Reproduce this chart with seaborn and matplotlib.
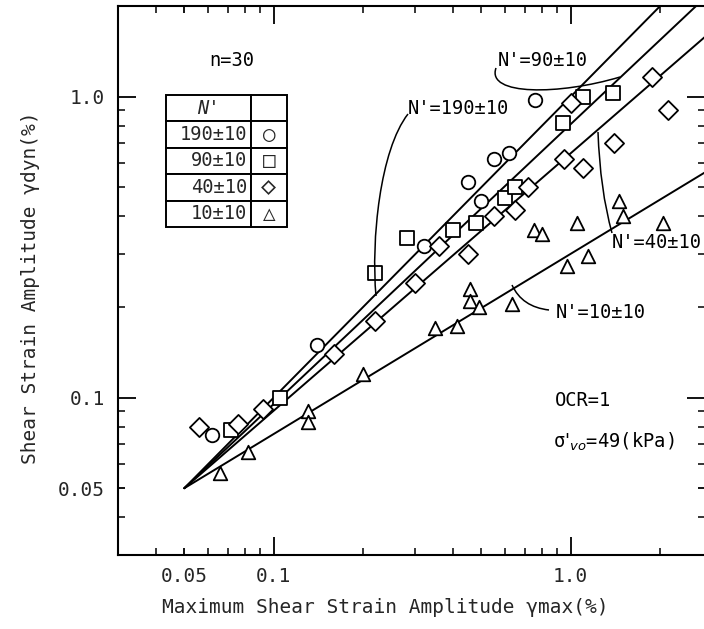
import numpy as np
import matplotlib
matplotlib.use("Agg")
import matplotlib.pyplot as plt
import seaborn as sns
from matplotlib.ticker import FixedLocator, NullFormatter, FixedFormatter
from matplotlib.path import Path
from matplotlib.patches import PathPatch

# ---------------- data ----------------
circle_x = [0.062, 0.14, 0.32, 0.45, 0.50, 0.55, 0.62, 0.76]
circle_y = [0.075, 0.15, 0.32, 0.52, 0.45, 0.62, 0.65, 0.977]

square_x = [0.072, 0.105, 0.22, 0.28, 0.40, 0.48, 0.60, 0.65, 0.94, 1.10, 1.39]
square_y = [0.078, 0.100, 0.26, 0.34, 0.36, 0.38, 0.46, 0.50, 0.82, 1.00, 1.03]

diamond_x = [0.056, 0.076, 0.092, 0.16, 0.22, 0.30, 0.36, 0.45, 0.55, 0.65, 0.72, 0.95, 1.00, 1.10, 1.40, 1.88, 2.13]
diamond_y = [0.080, 0.082, 0.092, 0.14, 0.18, 0.24, 0.32, 0.30, 0.40, 0.42, 0.50, 0.62, 0.955, 0.58, 0.70, 1.165, 0.905]

triangle_x = [0.066, 0.082, 0.13, 0.13, 0.20, 0.35, 0.413, 0.458, 0.458, 0.49, 0.633, 0.75, 0.80, 0.969, 1.05, 1.144, 1.45, 1.50, 2.05]
triangle_y = [0.056, 0.066, 0.09, 0.083, 0.12, 0.17, 0.173, 0.230, 0.210, 0.200, 0.204, 0.36, 0.35, 0.273, 0.38, 0.295, 0.45, 0.40, 0.38]

# fitted lines: common origin and end points (x, y)
line_x = [0.05, 3.0]
line190_y = [0.05, 3.0]
line90_y = [0.05, 2.25]
line40_y = [0.05, 1.66]
line10_y = [0.05, 0.58]

x_ticks = [0.05, 0.1, 1.0]
x_ticklabels = ["0.05", "0.1", "1.0"]
y_ticks = [0.05, 0.1, 1.0]
y_ticklabels = ["0.05", "0.1", "1.0"]

legend_rows = [["N'", ""], ["190±10", "○"], ["90±10", "□"], ["40±10", "◇"], ["10±10", "△"]]

# ---------------- style ----------------
sns.set_theme(style="white")
plt.rcParams['font.family'] = ['DejaVu Sans Mono', 'DejaVu Sans']
plt.rcParams['mathtext.fontset'] = 'dejavusans'

W, H = 704, 629
fig = plt.figure(figsize=(W / 100, H / 100), dpi=100)
AX_L, AX_R, AX_T, AX_B = 118.4, 705.4, 6.0, 555.0
ax = fig.add_axes([AX_L / W, (H - AX_B) / H, (AX_R - AX_L) / W, (AX_B - AX_T) / H])


def af(px, py):
    """reference pixel -> axes fraction (annotation furniture only)"""
    return ((px - AX_L) / (AX_R - AX_L), (AX_B - py) / (AX_B - AX_T))


ax.set_xscale('log')
ax.set_yscale('log')
ax.set_xlim(0.03, 2.84)
ax.set_ylim(0.03, 2.0)

for ly in (line190_y, line90_y, line40_y, line10_y):
    sns.lineplot(x=line_x, y=ly, color='black', linewidth=1.4, ax=ax, zorder=2)

mk = dict(facecolor='white', edgecolor='black', linewidth=1.3, s=95, zorder=3)
sns.scatterplot(x=circle_x, y=circle_y, marker='o', ax=ax, **mk)
sns.scatterplot(x=square_x, y=square_y, marker='s', ax=ax, **mk)
sns.scatterplot(x=diamond_x, y=diamond_y, marker='D', ax=ax, **mk)
sns.scatterplot(x=triangle_x, y=triangle_y, marker='^', ax=ax, **mk)

# ticks (inward on all four sides)
ax.xaxis.set_major_locator(FixedLocator(x_ticks))
ax.xaxis.set_major_formatter(FixedFormatter(x_ticklabels))
ax.yaxis.set_major_locator(FixedLocator(y_ticks))
ax.yaxis.set_major_formatter(FixedFormatter(y_ticklabels))
xminor = [0.04, 0.06, 0.07, 0.08, 0.09, 0.2, 0.3, 0.4, 0.5, 0.6, 0.7, 0.8, 0.9, 2.0]
yminor = [0.04, 0.06, 0.07, 0.08, 0.09, 0.2, 0.3, 0.4, 0.5, 0.6, 0.7, 0.8, 0.9]
ax.xaxis.set_minor_locator(FixedLocator(xminor))
ax.yaxis.set_minor_locator(FixedLocator(yminor))
ax.xaxis.set_minor_formatter(NullFormatter())
ax.yaxis.set_minor_formatter(NullFormatter())
ax.tick_params(which='both', direction='in', bottom=True, left=True, top=True, right=True,
               color='black', labelsize=14)
ax.tick_params(axis='x', which='both', pad=9)
ax.tick_params(axis='y', which='both', pad=10)
ax.tick_params(which='major', length=13, width=1.3)
ax.tick_params(which='minor', length=5, width=1.1)
# 0.05 only carries a short tick in the reference
for t in ax.xaxis.get_major_ticks()[:1] + ax.yaxis.get_major_ticks()[:1]:
    t.tick1line.set_markersize(5)
    t.tick2line.set_markersize(5)

for s in ax.spines.values():
    s.set_color('black')
    s.set_linewidth(1.5)

ax.set_xlabel("Maximum Shear Strain Amplitude γmax(%)", fontsize=14)
ax.set_ylabel("Shear Strain Amplitude γdyn(%)", fontsize=14)
ax.xaxis.set_label_coords(*af(385, 598))
ax.yaxis.set_label_coords(*af(40, 288))

# legend table
x0, y1 = af(166, 95)
x1, y0 = af(287, 227)
tb = ax.table(cellText=legend_rows, bbox=[x0, y0, x1 - x0, y1 - y0],
              colWidths=[0.70, 0.30], cellLoc='right')
tb.auto_set_font_size(False)
tb.set_fontsize(13.5)
for (r, c), cell in tb.get_celld().items():
    cell.set_linewidth(1.4)
    cell.set_edgecolor('black')
    cell.PAD = 0.04
    if c == 1 or r == 0:
        cell._loc = 'center'
        cell.get_text().set_ha('center')
    if c == 1:
        cell.get_text().set_fontsize(18 if r == 3 else 15)
    if r == 0 and c == 0:
        cell.get_text().set_fontstyle('italic')

# texts
tkw = dict(transform=ax.transAxes, fontsize=13.5, color='black')
ax.text(*af(232, 61), "n=30", ha='center', va='center', **tkw)
ax.text(*af(555, 400), "OCR=1", ha='left', va='center', **tkw)
ax.text(*af(553, 442), "σ$'_{vo}$=49(kPa)", ha='left', va='center', **tkw)
ax.text(*af(543, 61), "N'=90±10", ha='center', va='center', **tkw)
ax.text(*af(458, 108), "N'=190±10", ha='center', va='center', **tkw)
ax.text(*af(657, 243), "N'=40±10", ha='center', va='center', **tkw)
ax.text(*af(601, 312), "N'=10±10", ha='center', va='center', **tkw)


# leader curves
def leader(pts, codes):
    p = Path([af(*q) for q in pts], codes)
    ax.add_patch(PathPatch(p, transform=ax.transAxes, fill=False,
                           edgecolor='black', lw=1.1, zorder=4))


C4 = Path.CURVE4
C3 = Path.CURVE3
leader([(496, 68), (486, 96), (560, 95), (620, 77)], [Path.MOVETO, C4, C4, C4])
leader([(408, 114), (380, 150), (371, 240), (376, 296)], [Path.MOVETO, C4, C4, C4])
leader([(512, 285), (522, 307), (549, 310)], [Path.MOVETO, C3, C3])
leader([(612, 233), (600, 190), (598, 132)], [Path.MOVETO, C3, C3])

fig.savefig("out.png", dpi=100)
